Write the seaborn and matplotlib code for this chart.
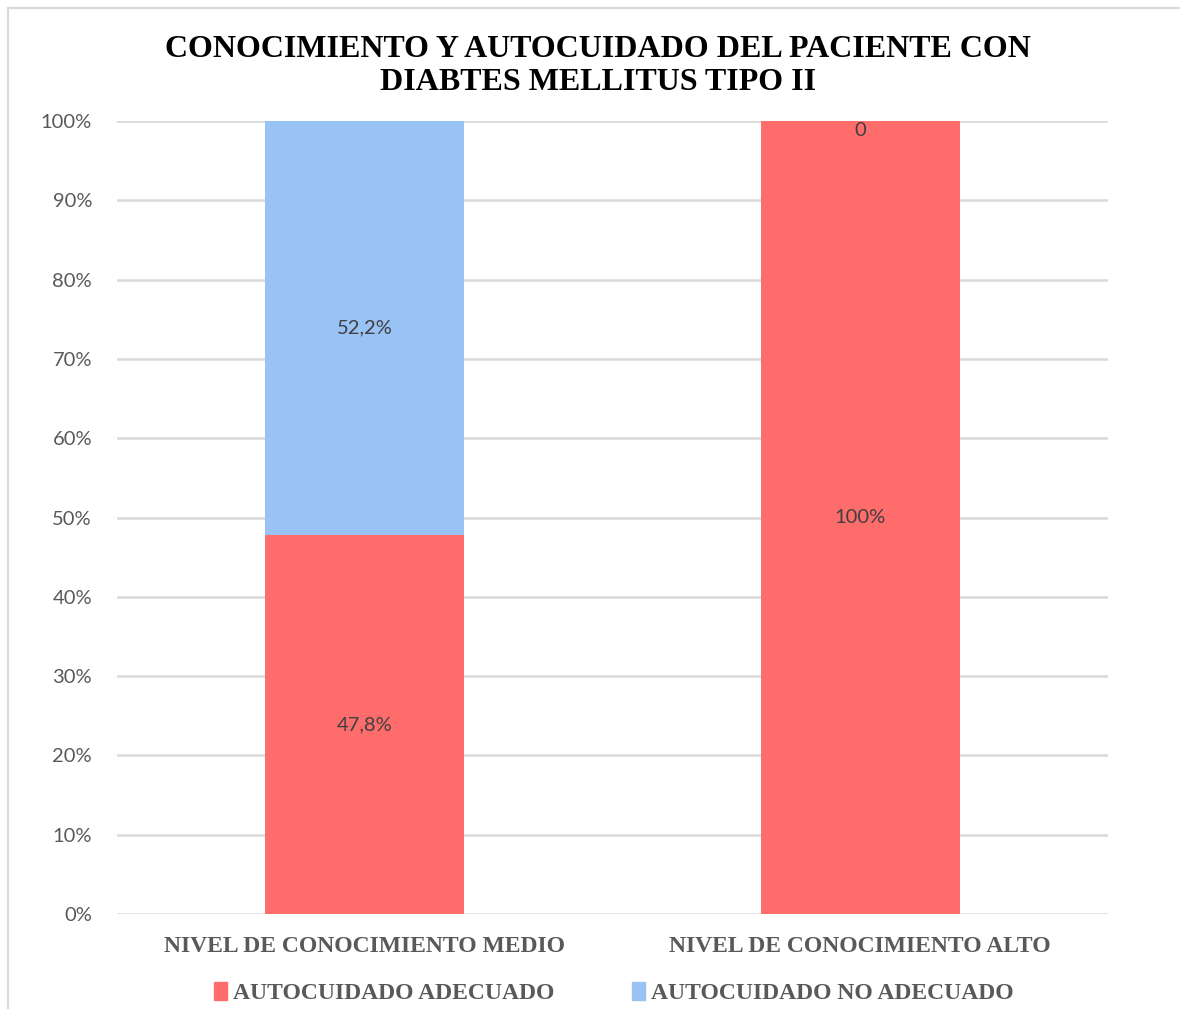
import matplotlib
matplotlib.use('Agg')
import matplotlib.pyplot as plt
import matplotlib.patches as mpatches
import pandas as pd
import seaborn as sns

# Data
niveles = ['NIVEL DE CONOCIMIENTO MEDIO', 'NIVEL DE CONOCIMIENTO ALTO']
adecuado = [47.8, 100.0]
no_adecuado = [52.2, 0.0]
etiquetas_adecuado = ['47,8%', '100%']
etiquetas_no_adecuado = ['52,2%', '0']
series = ['AUTOCUIDADO ADECUADO', 'AUTOCUIDADO NO ADECUADO']

ROJO = '#FF6C6C'
AZUL = '#99C2F5'
GRIS = '#595959'

df = pd.DataFrame({'nivel': niveles, 'adecuado': adecuado, 'no_adecuado': no_adecuado})
df['total'] = df['adecuado'] + df['no_adecuado']

sns.set_style('white')
plt.rcParams['font.family'] = ['Lato', 'DejaVu Sans']

fig = plt.figure(figsize=(11.8, 10.09), dpi=100)
ax = fig.add_axes([117/1180, 1 - 914/1009, 991/1180, 793/1009])

# stacked bars: total first (blue), then the lower part (red) on top
sns.barplot(data=df, x='nivel', y='total', color=AZUL, width=0.402, saturation=1,
            linewidth=0, ax=ax, zorder=2)
sns.barplot(data=df, x='nivel', y='adecuado', color=ROJO, width=0.402, saturation=1,
            linewidth=0, ax=ax, zorder=3)

ax.set_ylim(0, 100)
ax.set_xlim(-0.5, 1.5)
ax.set_yticks(range(0, 101, 10))
ax.set_yticklabels([f'{v}%' for v in range(0, 101, 10)], fontsize=14.5, color=GRIS)
ax.yaxis.grid(True, color='#D9D9D9', lw=1.8, zorder=0)
ax.set_axisbelow(True)
for s in ax.spines.values():
    s.set_visible(False)
ax.tick_params(axis='both', length=0)
ax.tick_params(axis='y', pad=18)
ax.tick_params(axis='x', pad=16)
ax.set_xticks(range(len(niveles)))
ax.set_xticklabels(niveles, family='Liberation Serif', fontweight='bold', fontsize=17, color=GRIS)
ax.set_xlabel('')
ax.set_ylabel('')

# data labels
for i in range(len(niveles)):
    ax.text(i, adecuado[i] / 2, etiquetas_adecuado[i], ha='center', va='center',
            fontsize=14.5, color='#404040', zorder=5)
    if no_adecuado[i] > 0:
        ax.text(i, adecuado[i] + no_adecuado[i] / 2, etiquetas_no_adecuado[i], ha='center',
                va='center', fontsize=14.5, color='#404040', zorder=5)
    else:
        ax.text(i, adecuado[i] - 0.1, etiquetas_no_adecuado[i], ha='center', va='top',
                fontsize=14.5, color='#404040', zorder=5)

fig.suptitle('CONOCIMIENTO Y AUTOCUIDADO DEL PACIENTE CON\nDIABTES MELLITUS TIPO II',
             x=598/1180, y=1 - 35/1009, family='Liberation Serif', fontweight='bold',
             fontsize=23, linespacing=1.2, va='top', color='black')

handles = [mpatches.Patch(color=ROJO), mpatches.Patch(color=AZUL)]
fig.legend(handles, series, loc='center', bbox_to_anchor=(614/1180, 1 - 993/1009), ncol=2,
           frameon=False, handlelength=0.55, handleheight=0.8, handletextpad=0.25,
           columnspacing=3.3, prop={'family': 'Liberation Serif', 'weight': 'bold', 'size': 17},
           labelcolor=GRIS)

# chart border (only top and left edges fall inside the picture)
fig.patches.append(mpatches.Rectangle((8/1180, -0.05), 1.2, 1 - 8/1009 + 0.05,
                                      transform=fig.transFigure, fill=False,
                                      edgecolor='#D9D9D9', lw=1.5))

fig.savefig('out.png', dpi=100)
